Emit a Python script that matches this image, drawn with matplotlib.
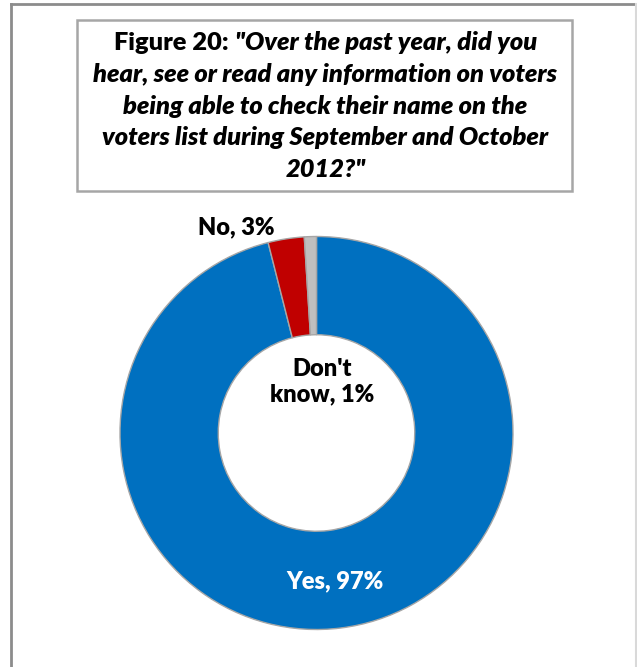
import numpy as np
import matplotlib
matplotlib.use("Agg")
import matplotlib.pyplot as plt
from matplotlib.patches import Rectangle
from matplotlib.lines import Line2D

# Survey responses (percent)
categories = ["Yes", "No", "Don't know"]
values = [97, 3, 1]
colors = ["#0070C0", "#C00000", "#BFBFBF"]

title_lines = [
    ("Figure 20: ", '"Over the past year, did you'),
    ("", "hear, see or read any information on voters"),
    ("", "being able to check their name on the"),
    ("", "voters list during September and October"),
    ("", '2012?"'),
]

W, H = 637, 667
fig = plt.figure(figsize=(W / 100, H / 100), dpi=100)
fig.patch.set_facecolor("white")


def fx(px):
    return px / W


def fy(py):
    return 1 - py / H


# outer chart frame (bottom edge runs past the canvas)
fig.add_artist(Line2D([fx(11), fx(11)], [fy(4), fy(H + 5)], color="#8C8C8C", lw=2.0))
fig.add_artist(Line2D([fx(11), fx(636)], [fy(4), fy(4)], color="#8C8C8C", lw=2.0))
fig.add_artist(Line2D([fx(636), fx(636)], [fy(4), fy(H + 5)], color="#D9D9D9", lw=1.5))

# title box
fig.add_artist(Rectangle((fx(76.5), fy(191)), fx(572) - fx(76.5), fy(20) - fy(191),
                         facecolor="white", edgecolor="#A6A6A6", lw=1.8))

font = "Lato"
weight = "heavy"
fsize = 18.3
baselines = [50, 82, 113.5, 145, 177]
renderer = fig.canvas.get_renderer()
cx = fx(325.5)
for (plain, ital), by in zip(title_lines, baselines):
    t1 = fig.text(0, fy(by), plain, family=font, weight=weight, size=fsize, va="baseline")
    t2 = fig.text(0, fy(by), ital, family=font, weight=weight, style="italic", size=fsize, va="baseline")
    w1 = t1.get_window_extent(renderer).width / W if plain else 0
    w2 = t2.get_window_extent(renderer).width / W
    x0 = cx - (w1 + w2) / 2
    t1.set_x(x0)
    t2.set_x(x0 + w1)

# donut
R = 196.5
ccx, ccy = 316.5, 433
ax = fig.add_axes([fx(ccx - R), fy(ccy + R), 2 * R / W, 2 * R / H])
wedges, _ = ax.pie(values, colors=colors, startangle=90, counterclock=False, radius=1.0,
                   wedgeprops=dict(width=0.5, edgecolor="#A6A6A6", linewidth=1.0))
ax.set_xlim(-1, 1)
ax.set_ylim(-1, 1)
ax.set_aspect("equal")
ax.axis("off")

lab_font = dict(family=font, weight=weight, size=17)

# "Yes" label inside its ring segment
w = wedges[0]
mid = np.deg2rad((w.theta1 + w.theta2) / 2)
ax.text(0.75 * np.cos(mid), 0.75 * np.sin(mid) - 0.01, f"{categories[0]}, {values[0]}%",
        color="white", ha="center", va="center", **lab_font)

ax.text(-0.41, 1.046, f"{categories[1]}, {values[1]}%", color="black",
        ha="center", va="center", **lab_font)
ax.text(0.03, 0.26, f"Don't\nknow, {values[2]}%", color="black", ha="center",
        va="center", linespacing=1.2, **lab_font)

fig.savefig("out.png", dpi=100, facecolor="white")
